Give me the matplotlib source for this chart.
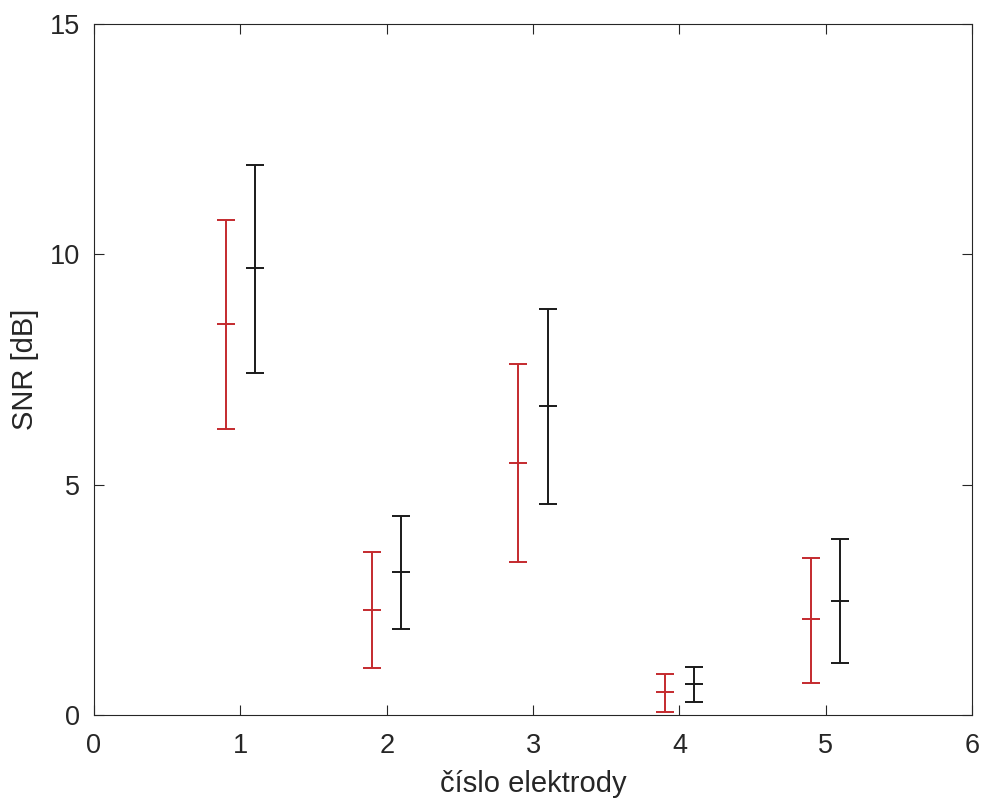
import numpy as np
import matplotlib
matplotlib.use('Agg')
import matplotlib.pyplot as plt

plt.rcParams['font.family'] = ['Liberation Sans', 'DejaVu Sans']

# electrode numbers
electrodes = [1, 2, 3, 4, 5]

# red series (mean, lower, upper)
red_mean = [8.48, 2.28, 5.48, 0.49, 2.08]
red_low = [6.21, 1.02, 3.33, 0.07, 0.69]
red_high = [10.75, 3.54, 7.63, 0.89, 3.41]

# black series (mean, lower, upper)
black_mean = [9.70, 3.10, 6.71, 0.67, 2.47]
black_low = [7.42, 1.87, 4.57, 0.29, 1.12]
black_high = [11.95, 4.32, 8.81, 1.05, 3.82]

x_ticks = [0, 1, 2, 3, 4, 5, 6]
y_ticks = [0, 5, 10, 15]


fig = plt.figure(figsize=(9.83, 8.01), dpi=100)
ax = fig.add_axes([0.0956, 0.1074, 0.8934, 0.8626])

x = np.array(electrodes, dtype=float)

for xs, m, lo, hi, col in [(x - 0.1, red_mean, red_low, red_high, '#c42a2e'),
                           (x + 0.1, black_mean, black_low, black_high, '#1a1a1a')]:
    m = np.array(m)
    err = [m - np.array(lo), np.array(hi) - m]
    ax.errorbar(xs, m, yerr=err, fmt='none', ecolor=col, elinewidth=1.4,
                capsize=6.5, capthick=1.4)
    ax.plot(xs, m, linestyle='none', marker='_', markersize=13,
            markeredgewidth=1.4, color=col)

ax.set_xlim(0, 6)
ax.set_ylim(0, 15)
ax.set_xticks(x_ticks)
ax.set_yticks(y_ticks)
ax.tick_params(direction='in', top=True, right=True, length=7, width=0.8,
               labelsize=19.5, colors='#262626')
ax.tick_params(axis='x', pad=13)
ax.tick_params(axis='y', pad=10)
for s in ax.spines.values():
    s.set_color('#262626')
    s.set_linewidth(0.8)

ax.set_xlabel('číslo elektrody', fontsize=21, color='#262626', labelpad=8)
ax.set_ylabel('SNR [dB]', fontsize=21, color='#262626', labelpad=8)

fig.savefig('out.png', dpi=100)
